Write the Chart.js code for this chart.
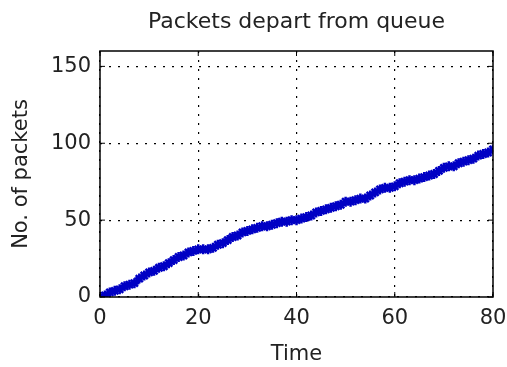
<!DOCTYPE html>
<html>
<head>
<meta charset="utf-8">
<script src="https://cdn.jsdelivr.net/npm/chart.js@4/dist/chart.umd.min.js"></script>
<style>
  body { margin: 0; background: #fff; }
  #wrap { width: 507px; height: 367px; position: relative; }
</style>
</head>
<body>
<div id="wrap"><canvas id="myChart"></canvas></div>
<script>
// data
var times = [];
for (var i = 0; i <= 80; i++) times.push(i);
var packets = [0, 1, 3, 4, 5, 7, 8, 9, 12, 14,
  16, 17, 19, 20, 22, 24, 26, 27, 29, 30,
  31, 31, 31, 32, 34, 35, 37, 39, 40, 42,
  43, 44, 45, 46, 46, 47, 48, 49, 49, 50,
  50, 51, 52, 53, 55, 56, 57, 58, 59, 60,
  62, 62, 63, 64, 64, 66, 68, 70, 71, 71,
  72, 74, 75, 76, 76, 77, 78, 79, 80, 82,
  84, 85, 85, 87, 88, 89, 90, 92, 93, 94, 96];
var xTicks = [0, 20, 40, 60, 80];
var yTicks = [0, 50, 100, 150];
var chartTitle = 'Packets depart from queue';

var font = 'DejaVu Sans';

// box round the plot area + title over it, like matlab
var boxPlugin = {
  id: 'box',
  afterDraw: function (chart) {
    var a = chart.chartArea, ctx = chart.ctx;
    ctx.save();
    ctx.strokeStyle = '#000';
    ctx.lineWidth = 1.5;
    ctx.strokeRect(a.left, a.top, a.right - a.left, a.bottom - a.top);
    // inward ticks
    ctx.lineWidth = 1;
    var xs = chart.scales.x, ys = chart.scales.y;
    xTicks.forEach(function (v) {
      var px = xs.getPixelForValue(v);
      ctx.beginPath();
      ctx.moveTo(px, a.bottom); ctx.lineTo(px, a.bottom - 5);
      ctx.moveTo(px, a.top); ctx.lineTo(px, a.top + 5);
      ctx.stroke();
    });
    yTicks.forEach(function (v) {
      var py = ys.getPixelForValue(v);
      ctx.beginPath();
      ctx.moveTo(a.left, py); ctx.lineTo(a.left + 5, py);
      ctx.moveTo(a.right, py); ctx.lineTo(a.right - 5, py);
      ctx.stroke();
    });
    // title centred on the plot area
    ctx.fillStyle = '#222';
    ctx.font = '22px "' + font + '"';
    ctx.textAlign = 'center';
    ctx.textBaseline = 'middle';
    ctx.fillText(chartTitle, (a.left + a.right) / 2, 22);
    ctx.restore();
  }
};

var config = {
  type: 'line',
  data: {
    labels: times,
    datasets: [{
      data: packets,
      borderColor: '#0000ff',
      borderWidth: 3.5,
      pointStyle: 'star',
      pointRadius: 5,
      pointBorderWidth: 2.5,
      pointBorderColor: '#0000c4',
      pointBackgroundColor: '#0000c4',
      tension: 0
    }]
  },
  options: {
    responsive: true,
    maintainAspectRatio: false,
    animation: false,
    layout: { padding: { left: 0, right: 14, top: 51, bottom: 0 } },
    plugins: {
      legend: { display: false },
      tooltip: { enabled: false },
      title: { display: false }
    },
    scales: {
      x: {
        type: 'linear',
        min: 0,
        max: 80,
        afterBuildTicks: function (scale) {
          scale.ticks = xTicks.map(function (v) { return { value: v }; });
        },
        afterFit: function (scale) {
          scale.height = 70;
          scale.paddingLeft = 0;
          scale.paddingRight = 0;
        },
        grid: {
          color: '#000',
          lineWidth: 1.2,
          drawTicks: false
        },
        border: { display: false, dash: [2, 7] },
        ticks: {
          color: '#222',
          padding: 9,
          font: { family: font, size: 21 }
        },
        title: {
          display: true,
          text: 'Time',
          color: '#222',
          font: { family: font, size: 21 },
          padding: { top: 0, bottom: 0 }
        }
      },
      y: {
        min: 0,
        max: 160,
        afterBuildTicks: function (scale) {
          scale.ticks = yTicks.map(function (v) { return { value: v }; });
        },
        afterFit: function (scale) {
          scale.width = 100;
          scale.paddingTop = 0;
          scale.paddingBottom = 0;
        },
        grid: {
          color: '#000',
          lineWidth: 1.2,
          drawTicks: false
        },
        border: { display: false, dash: [2, 7] },
        ticks: {
          color: '#222',
          padding: 9,
          font: { family: font, size: 21 }
        },
        title: {
          display: true,
          text: 'No. of packets',
          color: '#222',
          font: { family: font, size: 21 },
          padding: { top: 9, bottom: 0 }
        }
      }
    }
  },
  plugins: [boxPlugin]
};

var myChart = new Chart(document.getElementById('myChart'), config);
</script>
</body>
</html>
